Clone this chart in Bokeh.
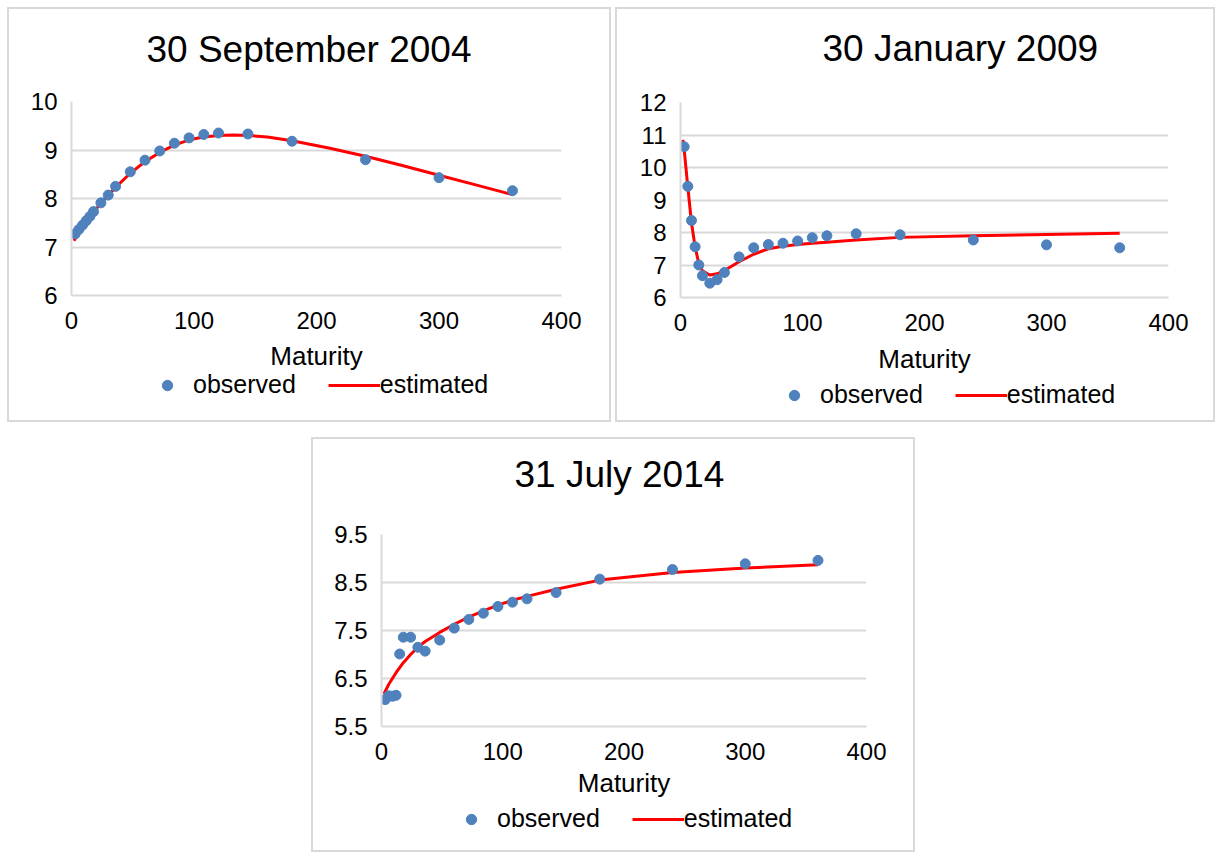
from bokeh.plotting import figure
from bokeh.models import Legend, LegendItem, Spacer, FixedTicker, Range1d, Title
from bokeh.layouts import row, column
from bokeh.embed import file_html
from bokeh.resources import INLINE

# ---------------- data ----------------
maturity_obs = [3, 6, 9, 12, 15, 18, 24, 30, 36, 48, 60, 72, 84, 96, 108, 120, 144, 180, 240, 300, 360]

sep2004_obs = [7.27, 7.36, 7.45, 7.54, 7.63, 7.73, 7.91, 8.07, 8.25, 8.55, 8.79, 8.98, 9.14, 9.25, 9.32,
               9.35, 9.33, 9.18, 8.80, 8.43, 8.16]
sep2004_est_x = [2, 6, 12, 18, 24, 30, 36, 48, 60, 72, 84, 96, 108, 120, 132, 144, 160, 180, 210, 240,
                 270, 300, 330, 360]
sep2004_est = [7.13, 7.29, 7.52, 7.72, 7.90, 8.07, 8.23, 8.52, 8.76, 8.95, 9.10, 9.21, 9.27, 9.30, 9.31,
               9.30, 9.27, 9.19, 9.04, 8.87, 8.68, 8.48, 8.28, 8.08]

jan2009_obs = [10.64, 9.42, 8.37, 7.56, 7.00, 6.67, 6.44, 6.55, 6.77, 7.25, 7.53, 7.63, 7.67, 7.74, 7.84,
               7.90, 7.96, 7.93, 7.77, 7.62, 7.53]
jan2009_est_x = [2, 3, 6, 9, 12, 15, 18, 24, 30, 36, 48, 60, 72, 84, 96, 108, 120, 144, 180, 240, 300, 360]
jan2009_est = [10.85, 10.55, 9.40, 8.30, 7.55, 7.05, 6.82, 6.69, 6.73, 6.83, 7.10, 7.33, 7.50, 7.58,
               7.63, 7.67, 7.70, 7.77, 7.85, 7.90, 7.94, 7.98]

jul2014_obs = [6.06, 6.14, 6.13, 6.15, 7.01, 7.36, 7.36, 7.15, 7.07, 7.30, 7.55, 7.73, 7.86, 8.00, 8.09,
               8.16, 8.29, 8.57, 8.77, 8.89, 8.96]
jul2014_est_x = [2, 6, 12, 18, 24, 30, 36, 48, 60, 72, 84, 96, 108, 120, 144, 180, 240, 300, 360]
jul2014_est = [6.18, 6.38, 6.62, 6.83, 7.00, 7.15, 7.27, 7.46, 7.63, 7.78, 7.91, 8.03, 8.13, 8.21, 8.36,
               8.55, 8.71, 8.80, 8.87]

x_ticks = [0, 100, 200, 300, 400]
sep2004_yticks = [6, 7, 8, 9, 10]
jan2009_yticks = [6, 7, 8, 9, 10, 11, 12]
jul2014_yticks = [5.5, 6.5, 7.5, 8.5, 9.5]
legend_labels = ["observed", "estimated"]

FONT = "Liberation Sans"
BLUE = "#4F81BD"
RED = "#FF0000"
GRID = "#D9D9D9"
BORDER = "2px solid #D9D9D9"


def make_panel(title, y_obs, x_est, y_est, yticks, width, chart_h, legend_h,
               left, right, top, bottom, title_offset, title_gap,
               label_standoff, legend_xy):
    # ---- chart part ----
    p = figure(width=width, height=chart_h, output_backend="svg", toolbar_location=None,
               title=None,
               x_range=Range1d(0, 400), y_range=Range1d(yticks[0], yticks[-1]),
               min_border_left=left, min_border_right=right,
               min_border_top=top, min_border_bottom=bottom)
    p.styles = {"border": BORDER, "border-bottom": "none"}
    p.outline_line_color = None
    p.background_fill_color = "white"
    p.border_fill_color = "white"

    p.line(x_est, y_est, line_color=RED, line_width=3, line_join="round")
    p.scatter(maturity_obs, y_obs, size=10, fill_color=BLUE, line_color=BLUE)

    # gap between the frame and the title, then the title itself
    p.add_layout(Title(text=" ", text_font_size="2px", standoff=title_gap), "above")
    p.add_layout(Title(text=title, text_font=FONT, text_font_size="37px",
                       text_font_style="normal", text_color="#000000",
                       align="left", offset=title_offset, standoff=10), "above")

    p.xgrid.visible = False
    p.ygrid.grid_line_color = GRID
    p.ygrid.grid_line_width = 2

    p.xaxis.ticker = FixedTicker(ticks=x_ticks)
    p.yaxis.ticker = FixedTicker(ticks=yticks)
    for ax in (p.xaxis[0], p.yaxis[0]):
        ax.axis_line_color = GRID
        ax.axis_line_width = 2
        ax.major_tick_line_color = None
        ax.minor_tick_line_color = None
        ax.major_label_text_font = FONT
        ax.major_label_text_font_size = "24px"
        ax.major_label_text_color = "#000000"
    p.xaxis.major_label_standoff = 10
    p.yaxis.major_label_standoff = 8
    p.xaxis.axis_label = "Maturity"
    p.xaxis.axis_label_text_font = FONT
    p.xaxis.axis_label_text_font_size = "26px"
    p.xaxis.axis_label_text_font_style = "normal"
    p.xaxis.axis_label_text_color = "#000000"
    p.xaxis.axis_label_standoff = label_standoff

    # ---- legend part (own canvas below the chart, frame aligned with it) ----
    lg = figure(width=width, height=legend_h, output_backend="svg", toolbar_location=None,
                x_range=Range1d(0, 1), y_range=Range1d(0, 1),
                x_axis_type=None, y_axis_type=None,
                min_border_left=0, min_border_right=0, min_border_top=0, min_border_bottom=0)
    lg.styles = {"border": BORDER, "border-top": "none"}
    lg.outline_line_color = None
    lg.grid.visible = False
    lg.background_fill_color = "white"
    lg.border_fill_color = "white"
    # proxies for the legend glyphs: same data, lying outside this canvas' 0..1 ranges
    r_obs = lg.scatter(maturity_obs, y_obs, size=10, fill_color=BLUE, line_color=BLUE)
    r_est = lg.line(x_est, y_est, line_color=RED, line_width=3)
    legend = Legend(items=[LegendItem(label=legend_labels[0], renderers=[r_obs]),
                           LegendItem(label=legend_labels[1], renderers=[r_est])],
                    orientation="horizontal", location=legend_xy,
                    glyph_width=52, glyph_height=26, label_height=26,
                    label_standoff=0, spacing=32, padding=0, margin=0,
                    label_text_font=FONT, label_text_font_size="25px",
                    label_text_color="#000000",
                    border_line_alpha=0, background_fill_alpha=0)
    lg.add_layout(legend, "center")
    return column(p, lg, spacing=0)


panel1 = make_panel("30 September 2004", sep2004_obs, sep2004_est_x, sep2004_est, sep2004_yticks,
                    604, 364, 51, 62, 52, 92, 77, 75, 23, 9, (70, 23))
panel2 = make_panel("30 January 2009", jan2009_obs, jan2009_est_x, jan2009_est, jan2009_yticks,
                    600, 372, 43, 63, 49, 93, 84, 142, 25, 10, (88, 13))
panel3 = make_panel("31 July 2014", jul2014_obs, jul2014_est_x, jul2014_est, jul2014_yticks,
                    604, 366, 49, 68, 51, 95, 79, 133, 31, 5, (64, 19))

layout = column(Spacer(height=7),
                row(Spacer(width=7), panel1, Spacer(width=4), panel2),
                Spacer(height=15),
                row(Spacer(width=311), panel3))

open("out.html", "w").write(file_html(layout, INLINE))
